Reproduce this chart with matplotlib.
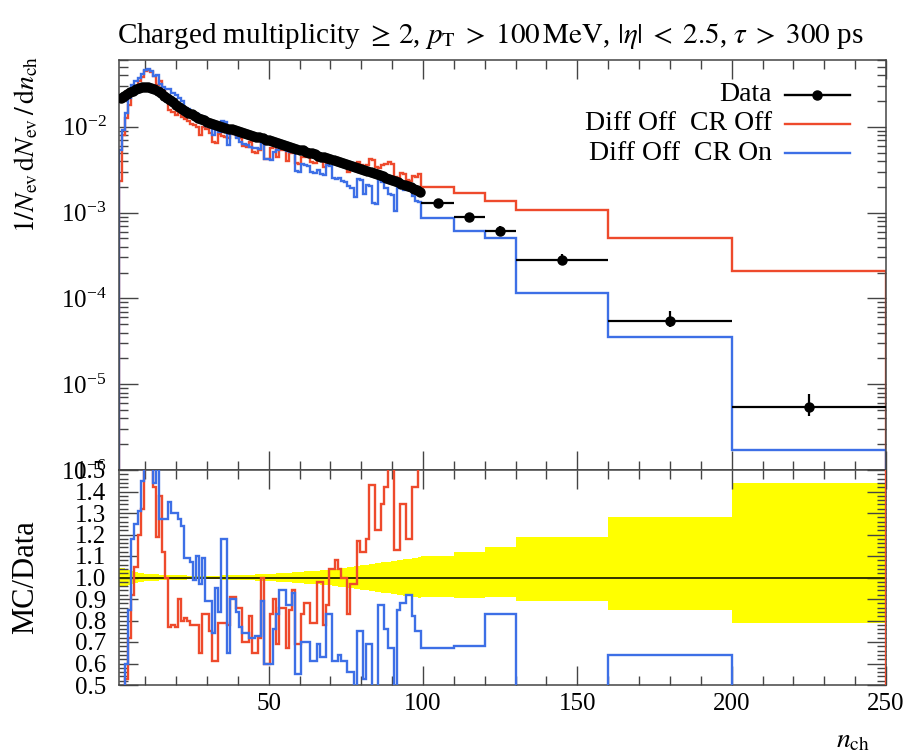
import numpy as np
import matplotlib
matplotlib.use("Agg")
import matplotlib.pyplot as plt
from matplotlib.ticker import MultipleLocator, LogLocator, FormatStrFormatter, NullFormatter

plt.rcParams['font.family'] = ['Liberation Serif', 'DejaVu Serif']
plt.rcParams['mathtext.fontset'] = 'stix'

# ---------------- data ----------------
# unit bins n_ch = 2..99
n_unit = list(range(2, 100))
data_unit = [
    .0214, .0227, .0240, .0252, .0263, .0273, .0281, .0287, .0290,
    .0288, .0282, .0272, .0259, .0245, .0231, .0217, .0204, .0192, .0180,
    .0170, .0161, .0153, .0146, .0139, .0133, .0128, .0123, .0119, .0115,
    .0112, .0109, .0106, .0103, .0100, .0097, .0095, .0093, .0091, .0089,
    .0087, .0085, .0083, .0081, .0079, .0077, .0075, .0073, .0071, .0070,
    .0068, .0066, .0065, .0063, .0062, .0060, .0058, .0057, .0055, .0054,
    .0053, .0051, .0050, .0049, .0048, .0046, .0045, .0044, .0043, .0042,
    .0041, .0040, .0039, .0038, .0037, .0036, .0035, .0034, .0033, .0032,
    .00312, .00304, .00296, .00288, .00280, .00272, .00264, .00256, .00248, .00240,
    .00232, .00225, .00218, .00211, .00204, .00197, .00190, .00183, .00176]
relerr_unit = [
    .045, .042, .038, .033, .028, .024, .021, .019, .018,
    .017, .016, .015, .014, .013, .013, .012, .012, .011, .011,
    .010, .010, .010, .009, .009, .009, .009, .009, .009, .009,
    .009, .009, .009, .009, .010, .010, .010, .010, .011, .011,
    .011, .012, .012, .013, .013, .014, .014, .015, .016, .016,
    .017, .018, .019, .020, .021, .022, .023, .024, .025, .026,
    .027, .028, .029, .030, .031, .032, .033, .034, .035, .036,
    .038, .040, .042, .044, .046, .048, .050, .052, .054, .056,
    .058, .060, .062, .064, .066, .068, .070, .072, .074, .076,
    .078, .080, .082, .084, .086, .088, .090, .092, .094]
# wide bins
wide_edges = [99.5, 110, 120, 130, 160, 200, 250]
data_wide = [1.29e-3, 8.9e-4, 6.1e-4, 2.8e-4, 5.5e-5, 5.4e-6]
relerr_wide_up = [0.10, 0.12, 0.14, 0.19, 0.28, 0.44]
relerr_wide_dn = [0.09, 0.095, 0.09, 0.11, 0.15, 0.21]

# MC / Data ratios
ratio_cr_off_unit = [
    0.11, 0.35, 0.53, 0.72, 0.92, 1.05, 1.20, 1.32, 1.55,
    1.60, 1.55, 1.42, 1.19, 1.38, 1.12, 1.00, 0.77, 0.78, 0.77,
    0.90, 0.80, 0.81, 0.80, 0.78, 0.78, 0.78, 0.65, 0.83, 0.83,
    0.75, 0.61, 0.61, 0.79, 0.79, 0.79, 0.78, 0.91, 0.91, 0.86,
    0.86, 0.70, 0.70, 0.82, 0.65, 0.65, 0.72, 1.00, 0.60, 0.60,
    0.83, 0.90, 0.69, 0.86, 0.86, 0.67, 0.85, 0.94, 0.69, 0.69,
    0.83, 0.88, 0.88, 0.79, 0.79, 0.98, 0.98, 0.78, 0.87, 1.04,
    1.04, 1.08, 1.04, 1.00, 1.00, 0.83, 0.97, 0.97, 1.17, 1.12,
    1.12, 1.18, 1.43, 1.43, 1.22, 1.22, 1.34, 1.42, 1.55, 1.55,
    1.13, 1.13, 1.34, 1.34, 1.18, 1.18, 1.42, 1.42, 1.60]
ratio_cr_on_unit = [
    0.25, 0.40, 0.60, 0.85, 1.18, 1.25, 1.31, 1.45, 1.60,
    1.65, 1.60, 1.44, 1.55, 1.27, 1.27, 1.27, 1.35, 1.30, 1.30,
    1.27, 1.24, 1.09, 1.09, 1.07, 0.99, 1.10, 0.97, 1.09, 0.89,
    0.89, 0.74, 0.95, 0.84, 1.18, 1.18, 0.65, 0.90, 0.90, 0.84,
    0.77, 0.74, 0.74, 0.72, 0.72, 0.73, 0.73, 0.89, 0.60, 0.60,
    0.60, 0.76, 0.83, 0.94, 0.94, 0.87, 0.87, 0.93, 0.55, 0.55,
    0.70, 0.70, 0.70, 0.61, 0.61, 0.69, 0.63, 0.63, 0.83, 0.83,
    0.61, 0.61, 0.64, 0.61, 0.61, 0.56, 0.56, 0.45, 0.75, 0.75,
    0.53, 0.69, 0.69, 0.45, 0.45, 0.87, 0.87, 0.76, 0.67, 0.67,
    0.45, 0.85, 0.88, 0.88, 0.92, 0.92, 0.82, 0.75, 0.75]
ratio_cr_off_wide = [1.52, 1.89, 2.26, 3.8, 9.3, 39.0]
ratio_cr_on_wide = [0.67, 0.68, 0.83, 0.41, 0.64, 0.32]

labels = ["Data", "Diff Off  CR Off", "Diff Off  CR On"]
title = (r"Charged multiplicity $\geq\, 2$, $p_\mathrm{T}\;>\;100\,\mathrm{MeV}$, "
         r"$|\eta|\;<\;2.5$, $\tau\;>\;300$ ps")

# ---------------- assemble ----------------
edges = np.concatenate([np.array(n_unit) - 0.5, wide_edges])
data = np.array(data_unit + data_wide)
err_up = np.array(relerr_unit + relerr_wide_up)
err_dn = np.array(relerr_unit + relerr_wide_dn)
r_off = np.array(ratio_cr_off_unit + ratio_cr_off_wide)
r_on = np.array(ratio_cr_on_unit + ratio_cr_on_wide)
mc_off = data * r_off
mc_on = data * r_on
centers = 0.5 * (edges[1:] + edges[:-1])
halfw = 0.5 * (edges[1:] - edges[:-1])

RED = '#EE4A2C'
BLUE = '#3D6FE6'

W, H = 907, 753
fig = plt.figure(figsize=(W / 100, H / 100), dpi=100)
L, R = 119, 886
T1, B1, B2 = 60, 470, 685
ax = fig.add_axes([L / W, 1 - B1 / H, (R - L) / W, (B1 - T1) / H])
ax2 = fig.add_axes([L / W, 1 - B2 / H, (R - L) / W, (B2 - B1) / H], sharex=ax)

# upper panel
ax.stairs(mc_off, edges, color=RED, lw=1.7, zorder=2)
ax.stairs(mc_on, edges, color=BLUE, lw=1.7, zorder=2)
ax.errorbar(centers, data, xerr=halfw, yerr=[data * err_dn, data * err_up],
            fmt='o', color='black', ms=6.5, lw=1.6, capsize=0, zorder=3)
ax.set_yscale('log')
ax.set_xlim(1.5, 250)
ax.set_ylim(1e-6, 0.06)
ax.set_ylabel(r"$1/N_\mathrm{ev}\,\mathrm{d}N_\mathrm{ev}\,/\,\mathrm{d}n_\mathrm{ch}$",
              fontsize=20, loc='top')
ax.yaxis.set_label_coords(-0.103, 1.01)
ax.set_title(title, loc='left', fontsize=21, pad=12, x=-0.002)
ax.yaxis.set_major_locator(LogLocator(base=10, numticks=20))
ax.yaxis.set_minor_locator(LogLocator(base=10, subs=np.arange(2, 10), numticks=20))
ax.yaxis.set_minor_formatter(NullFormatter())
ax.xaxis.set_major_locator(MultipleLocator(50))
ax.xaxis.set_minor_locator(MultipleLocator(10))
ax.tick_params(axis='x', labelbottom=False)

# legend (manual, right-aligned text)
leg_y = [0.915, 0.844, 0.773]
for i, (lab, col) in enumerate(zip(labels, ['black', RED, BLUE])):
    ax.text(0.851, leg_y[i], lab, transform=ax.transAxes, ha='right', va='center',
            fontsize=20)
    ax.plot([0.868, 0.953], [leg_y[i], leg_y[i]], transform=ax.transAxes,
            color=col, lw=1.7, clip_on=False)
ax.plot([0.9105], [leg_y[0]], 'o', color='black', ms=6.5, transform=ax.transAxes)

# ratio panel
ax2.stairs(1 + err_up, edges, baseline=1 - err_dn, fill=True, color='#FFFF00',
           zorder=1)
ax2.axhline(1.0, color='#333300', lw=1.4, zorder=2)
ax2.stairs(r_off, edges, color=RED, lw=1.7, zorder=3)
ax2.stairs(r_on, edges, color=BLUE, lw=1.7, zorder=3)
ax2.set_ylim(0.5, 1.5)
ax2.yaxis.set_major_locator(MultipleLocator(0.1))
ax2.yaxis.set_minor_locator(MultipleLocator(0.02))
ax2.yaxis.set_major_formatter(FormatStrFormatter('%.1f'))
ax2.set_ylabel("MC/Data", fontsize=22)
ax2.yaxis.set_label_coords(-0.103, 0.5)
ax2.set_xlabel(r"$n_\mathrm{ch}$", fontsize=20, loc='right')
ax2.xaxis.set_label_coords(0.979, -0.2)

for a in (ax, ax2):
    a.tick_params(which='both', direction='in', top=True, right=True,
                  labelsize=18, width=1.0, color='#444444')
    a.tick_params(which='major', length=14)
    a.tick_params(which='minor', length=6.5)
    a.tick_params(axis='y', which='both', pad=9)
    a.tick_params(axis='x', which='both', pad=6)
    for s in a.spines.values():
        s.set_linewidth(1.1)
        s.set_color('#444444')

fig.savefig("out.png", dpi=100)
